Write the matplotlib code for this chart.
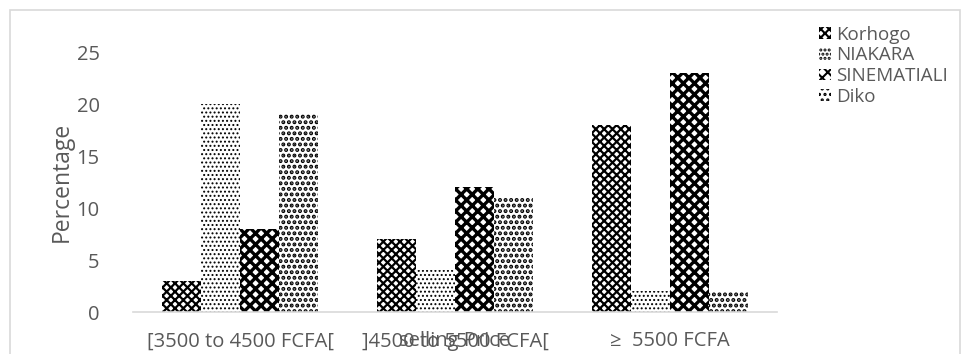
import numpy as np
import matplotlib.pyplot as plt
from matplotlib.patches import Rectangle

plt.rcParams['font.family'] = ['Open Sans', 'DejaVu Sans']
plt.rcParams['hatch.linewidth'] = 1.5

categories = ['[3500 to 4500 FCFA[', ']4500 to 5500 FCFA[', '\u2265  5500 FCFA']
korhogo = [3, 7, 18]
niakara = [20, 4, 2]
sinematiali = [8, 12, 23]
diko = [19, 11, 2]

# name, values, hatch, hatch line width
series = [('Korhogo', korhogo, 'xxxx', 1.6),
          ('NIAKARA', niakara, '....', 0.9),
          ('SINEMATIALI', sinematiali, 'XXX', 2.4),
          ('Diko', diko, '...', 2.0)]

grey = '#595959'

fig = plt.figure(figsize=(9.7, 3.54), dpi=100)
ax = fig.add_axes([133 / 970, 1 - 312 / 354, 644 / 970, 260 / 354])

# chart border
fig.patches.append(Rectangle((10 / 970, -0.1), 950 / 970, 1.1 - 10 / 354,
                             transform=fig.transFigure, fill=False,
                             edgecolor='#d9d9d9', linewidth=1.2))

x = np.arange(len(categories))
w = 0.182
for i, (name, vals, hatch, hlw) in enumerate(series):
    bars = ax.bar(x + (i - 1.5) * w, vals, w, color='white', edgecolor='black',
                  hatch=hatch, linewidth=0, label=name)
    for b in bars:
        if hasattr(b, 'set_hatch_linewidth'):
            b.set_hatch_linewidth(hlw)

ax.set_xlim(-0.5, 2.5)
ax.set_ylim(0, 25)
ax.set_yticks([0, 5, 10, 15, 20, 25])
ax.set_xticks(x)
ax.set_xticklabels(categories)
ax.tick_params(length=0, labelsize=14.5, colors=grey)
ax.tick_params(axis='x', pad=14)
ax.tick_params(axis='y', pad=24)
for s in ['top', 'right', 'left']:
    ax.spines[s].set_visible(False)
ax.spines['bottom'].set_color('#d9d9d9')
ax.spines['bottom'].set_linewidth(1.2)

ax.set_ylabel('Percentage', fontsize=16.5, color=grey, labelpad=2)
ax.set_xlabel('selling Price', fontsize=14.5, color=grey, labelpad=-15)

ax.legend(loc='upper left', bbox_to_anchor=(812 / 970, 1 - 18 / 354),
          bbox_transform=fig.transFigure, frameon=False, fontsize=13.5,
          labelcolor=grey, handlelength=0.6, handleheight=0.6,
          handletextpad=0.3, labelspacing=0.15, borderaxespad=0)

fig.savefig('out.png', dpi=100)
